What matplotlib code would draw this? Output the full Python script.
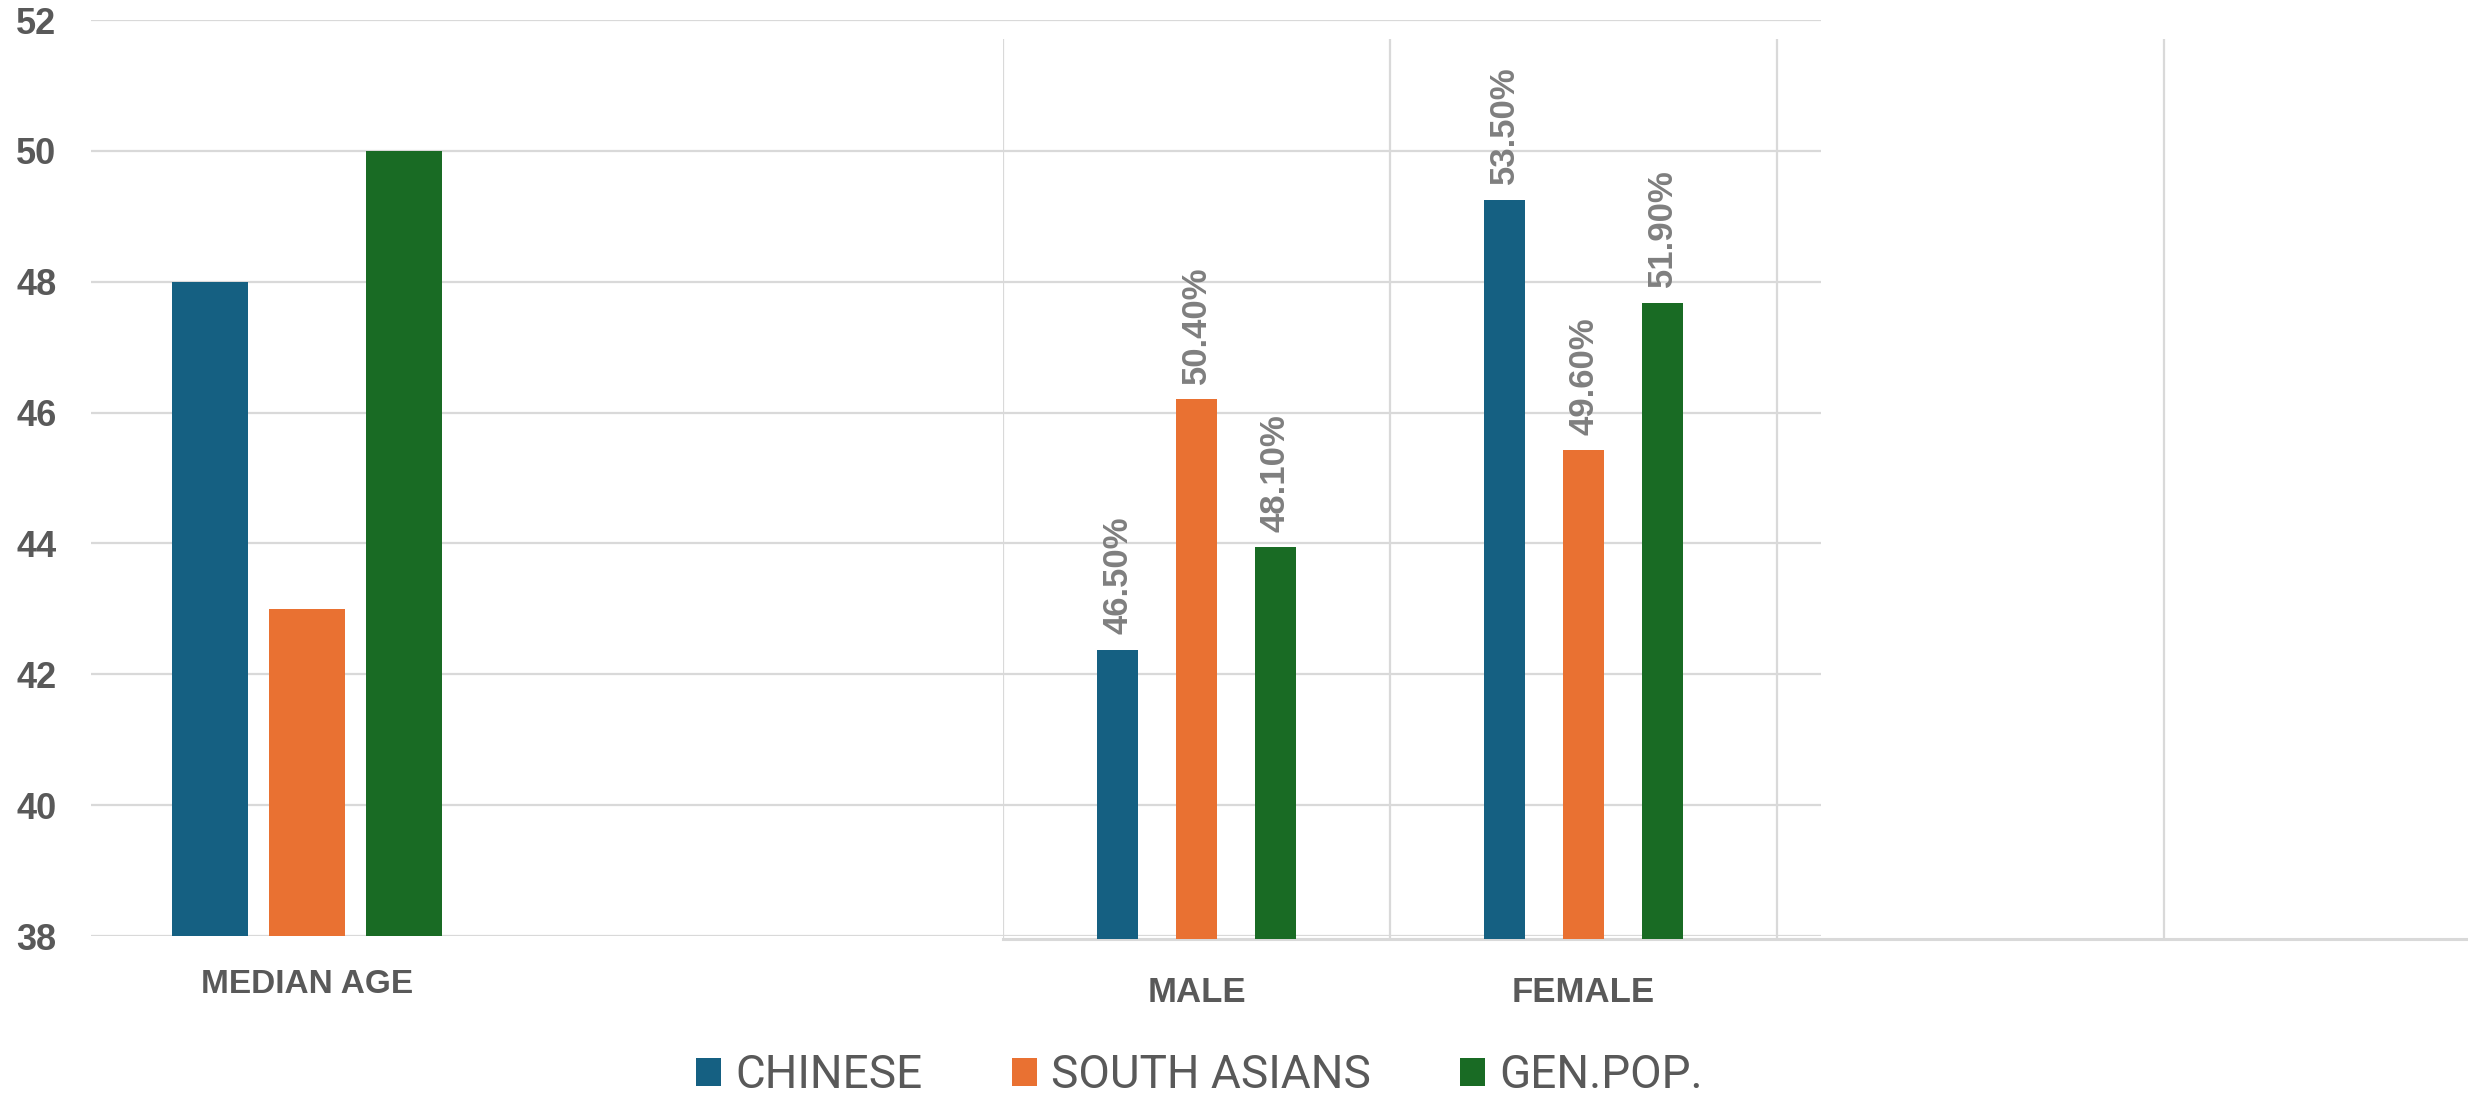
import matplotlib
matplotlib.use("Agg")
import matplotlib.pyplot as plt
from matplotlib.patches import Patch
from matplotlib import font_manager
import numpy as np

# ---------------- data ----------------
series = ["CHINESE", "SOUTH ASIANS", "GEN.POP."]
colors = ["#156082", "#E97132", "#196B24"]

age_categories = ["MEDIAN AGE"]
median_age = {"CHINESE": [48], "SOUTH ASIANS": [43], "GEN.POP.": [50]}
age_ticks = [38, 40, 42, 44, 46, 48, 50, 52]

sex_categories = ["MALE", "FEMALE"]
sex_share = {"CHINESE": [46.5, 53.5], "SOUTH ASIANS": [50.4, 49.6], "GEN.POP.": [48.1, 51.9]}

# ---------------- style ----------------
names = {f.name for f in font_manager.fontManager.ttflist}
BOLD = ["Liberation Sans", "DejaVu Sans"]
if "Liberation Sans Narrow" in names:
    LEG_FONT, LEG_SIZE = ["Liberation Sans Narrow", "DejaVu Sans"], 37
else:
    LEG_FONT, LEG_SIZE = ["Roboto", "DejaVu Sans"], 33
TXT = "#595959"
GRID = "#d9d9d9"

W, H = 2468, 1098
fig = plt.figure(figsize=(W / 100, H / 100), dpi=100)


def box(x0, y0, x1, y1):
    return [x0 / W, 1 - y1 / H, (x1 - x0) / W, (y1 - y0) / H]


# ---------------- left chart : median age ----------------
axL = fig.add_axes(box(91, 20, 1821, 936), zorder=1)
xL = np.arange(len(age_categories))
offL = [-0.224, 0.0, 0.224]
for i, s in enumerate(series):
    axL.bar(xL + offL[i], median_age[s], width=0.176, color=colors[i], zorder=3)
axL.set_xlim(-0.5, 3.5)
axL.set_ylim(age_ticks[0], age_ticks[-1])
axL.set_yticks(age_ticks)
axL.set_xticks(xL)
axL.set_xticklabels(age_categories)
for sp in axL.spines.values():
    sp.set_visible(False)
axL.grid(axis="y", color=GRID, linewidth=1.6, zorder=0)
axL.set_axisbelow(True)
axL.tick_params(axis="y", length=0, pad=25, labelsize=26, labelcolor=TXT)
axL.tick_params(axis="x", length=0, pad=24, labelsize=24, labelcolor=TXT)
for t in axL.get_yticklabels() + axL.get_xticklabels():
    t.set_fontweight("bold")
    t.set_family(BOLD)

# ---------------- right chart : sex shares ----------------
axR = fig.add_axes(box(1003, 39, 2551, 939), zorder=2)
axR.patch.set_alpha(0)
xR = np.arange(len(sex_categories))
offR = [-0.204, 0.0, 0.204]
for i, s in enumerate(series):
    bars = axR.bar(xR + offR[i], sex_share[s], width=0.106, color=colors[i], zorder=3)
    axR.bar_label(bars, labels=[f"{v:.2f}%" for v in sex_share[s]], rotation=90,
                  padding=11, fontsize=25, fontweight="bold", color="#7F7F7F",
                  family=BOLD)
axR.set_xlim(-0.5, 3.5)
axR.set_ylim(42, 56)
axR.set_yticks([])
axR.set_xticks(xR)
axR.set_xticklabels(sex_categories)
axR.set_xticks(np.arange(-0.5, 4.0, 1.0), minor=True)
axR.grid(axis="x", which="minor", color=GRID, linewidth=1.6, zorder=0)
axR.grid(axis="x", which="major", visible=False)
axR.set_axisbelow(True)
for k, sp in axR.spines.items():
    sp.set_visible(k == "bottom")
axR.spines["bottom"].set_color(GRID)
axR.spines["bottom"].set_linewidth(2.2)
axR.tick_params(axis="x", which="both", length=0, pad=27, labelsize=25, labelcolor=TXT)
for t in axR.get_xticklabels():
    t.set_fontweight("bold")
    t.set_family(BOLD)

# ---------------- legend ----------------
handles = [Patch(facecolor=c, edgecolor="none", label=s) for s, c in zip(series, colors)]
leg = fig.legend(handles=handles, loc="center", bbox_to_anchor=(0.486, 0.021), ncol=3,
                 frameon=False, prop={"family": LEG_FONT, "size": LEG_SIZE},
                 handlelength=0.55, handleheight=0.55, handletextpad=0.3,
                 columnspacing=1.95, borderpad=0, borderaxespad=0)
for t in leg.get_texts():
    t.set_color(TXT)

fig.savefig("out.png", dpi=100, facecolor="white")
